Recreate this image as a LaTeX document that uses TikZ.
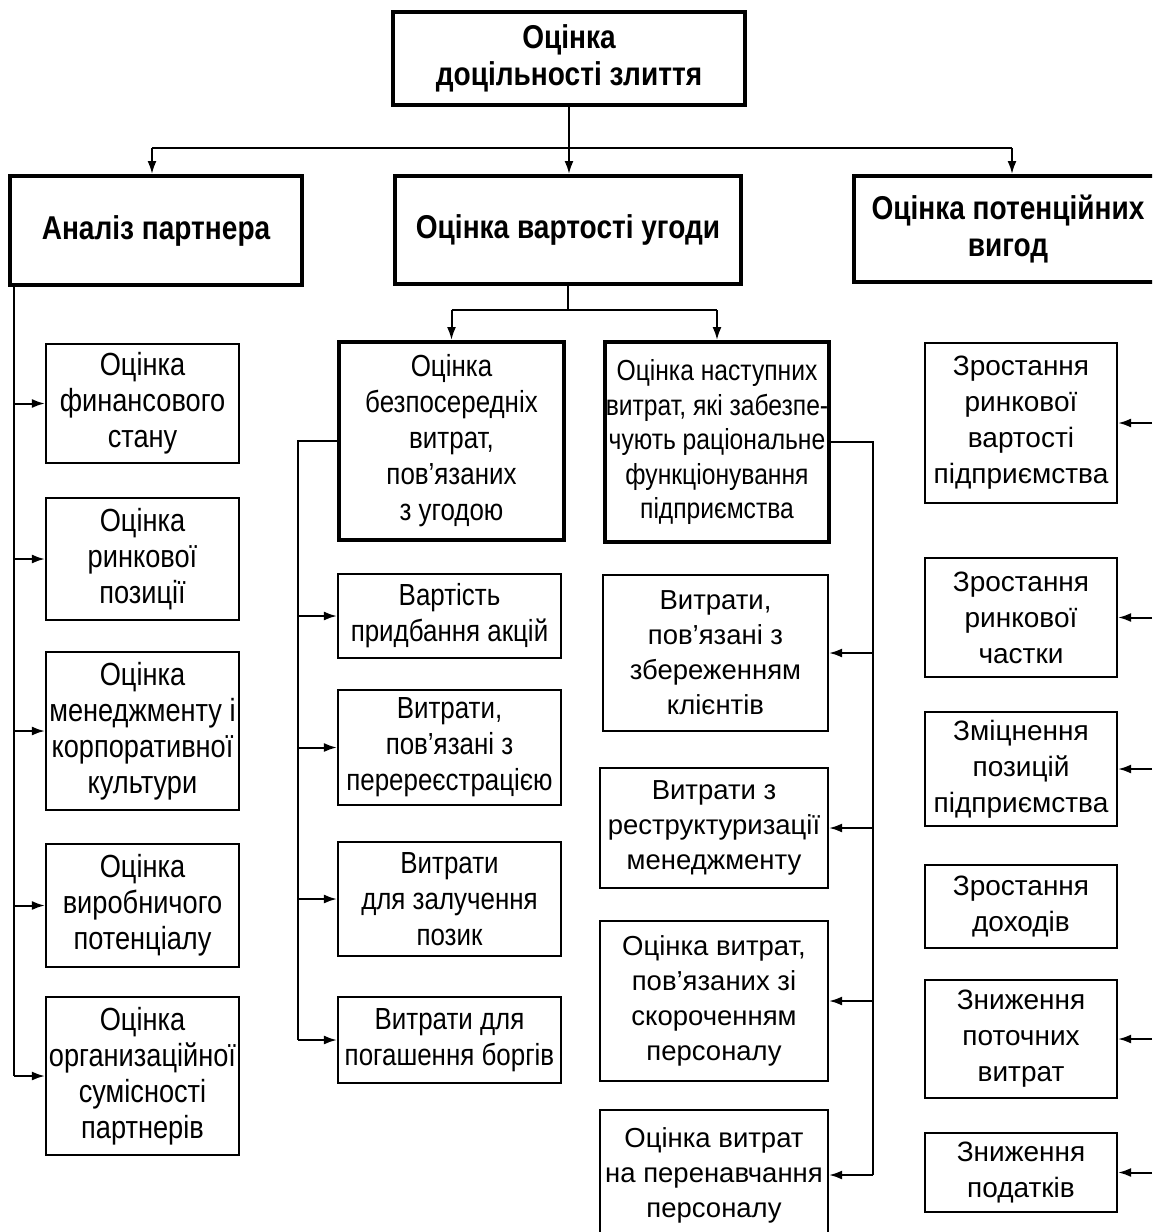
\documentclass[tikz,border=0pt]{standalone}
\usepackage{fontspec}
\setmainfont{Liberation Sans}
\newfontfamily\narrowf{Liberation Sans}[FakeStretch=0.85]
\usetikzlibrary{arrows.meta}
\begin{document}
\begin{tikzpicture}[x=1pt,y=-1pt,
  bx/.style={draw, line width=2.2pt, align=center, inner sep=0pt},
  tbx/.style={draw, line width=4pt, align=center, inner sep=0pt},
  ttl/.style={font=\narrowf\bfseries\fontsize{33}{37}\selectfont},
  nartxt/.style={font=\narrowf\fontsize{32}{36}\selectfont},
  midtxt/.style={font=\narrowf\fontsize{30.5}{36}\selectfont},
  nexttxt/.style={font=\narrowf\fontsize{29}{34.5}\selectfont},
  regtxt/.style={font=\fontsize{27.5}{35}\selectfont},
  rtxt/.style={font=\fontsize{28}{36}\selectfont},
  ln/.style={draw, line width=2pt},
  arr/.style={draw, line width=2pt, -{Latex[length=13pt,width=9pt]}}
]
\useasboundingbox (0,0) rectangle (1152,1232);
\fill[white] (0,0) rectangle (1152,1232);
\clip (0,0) rectangle (1152,1232);

% level 0
\node[tbx,ttl,minimum width=352pt,minimum height=93pt] (top) at (569,58) {Оцінка\\доцільності злиття};

% level 1
\node[tbx,ttl,minimum width=292pt,minimum height=109pt] (A) at (156,230.5) {Аналіз партнера};
\node[tbx,ttl,minimum width=346pt,minimum height=108pt] (B) at (568,230) {Оцінка вартості угоди};
\node[tbx,ttl,minimum width=308pt,minimum height=106pt] (C) at (1008,229) {Оцінка потенційних\\вигод};

% left column
\node[bx,nartxt,minimum width=193pt,minimum height=119pt] (L1) at (142.5,403.5) {Оцінка\\финансового\\стану};
\node[bx,nartxt,minimum width=193pt,minimum height=122pt] (L2) at (142.5,559) {Оцінка\\ринкової\\позиції};
\node[bx,nartxt,minimum width=193pt,minimum height=158pt] (L3) at (142.5,731) {Оцінка\\менеджменту і\\корпоративної\\культури};
\node[bx,nartxt,minimum width=193pt,minimum height=123pt] (L4) at (142.5,905.5) {Оцінка\\виробничого\\потенціалу};
\node[bx,nartxt,minimum width=193pt,minimum height=158pt] (L5) at (142.5,1076) {Оцінка\\организаційної\\сумісності\\партнерів};

% middle second level
\node[tbx,midtxt,minimum width=225pt,minimum height=198pt] (M1) at (451.5,441) {Оцінка\\безпосередніх\\витрат,\\пов’язаних\\з угодою};
\node[tbx,nexttxt,minimum width=224pt,minimum height=200pt] (M2) at (717,442) {Оцінка наступних\\витрат, які забезпе-\\чують раціональне\\функціонування\\підприємства};

% middle-left column
\node[bx,midtxt,minimum width=223pt,minimum height=84pt] (ML1) at (449.5,616) {Вартість\\придбання акцій};
\node[bx,midtxt,minimum width=223pt,minimum height=115pt] (ML2) at (449.5,747.5) {Витрати,\\пов’язані з\\перереєстрацією};
\node[bx,midtxt,minimum width=223pt,minimum height=114pt] (ML3) at (449.5,899) {Витрати\\для залучення\\позик};
\node[bx,midtxt,minimum width=223pt,minimum height=86pt] (ML4) at (449.5,1040) {Витрати для\\погашення боргів};

% middle-right column
\node[bx,regtxt,minimum width=225pt,minimum height=156pt] (MR1) at (715.5,653) {Витрати,\\пов’язані з\\збереженням\\клієнтів};
\node[bx,regtxt,minimum width=228pt,minimum height=120pt] (MR2) at (714,828) {Витрати з\\реструктуризації\\менеджменту};
\node[bx,regtxt,minimum width=228pt,minimum height=160pt] (MR3) at (714,1001) {Оцінка витрат,\\пов’язаних зі\\скороченням\\персоналу};
\node[bx,regtxt,minimum width=228pt,minimum height=130pt] (MR4) at (714,1175) {Оцінка витрат\\на перенавчання\\персоналу};

% right column
\node[bx,rtxt,minimum width=192pt,minimum height=160pt] (R1) at (1021,423) {Зростання\\ринкової\\вартості\\підприємства};
\node[bx,rtxt,minimum width=192pt,minimum height=119pt] (R2) at (1021,617.5) {Зростання\\ринкової\\частки};
\node[bx,rtxt,minimum width=192pt,minimum height=114pt] (R3) at (1021,769) {Зміцнення\\позицій\\підприємства};
\node[bx,rtxt,minimum width=192pt,minimum height=83pt] (R4) at (1021,906.5) {Зростання\\доходів};
\node[bx,rtxt,minimum width=192pt,minimum height=118pt] (R5) at (1021,1039) {Зниження\\поточних\\витрат};
\node[bx,rtxt,minimum width=192pt,minimum height=79pt] (R6) at (1021,1172.5) {Зниження\\податків};

% top connectors
\coordinate (busT) at (569,148);
\coordinate (tl) at (152,148);
\coordinate (tr) at (1012,148);
\draw[ln] (top.south) -- (busT);
\draw[ln] (tl) -- (tr);
\draw[arr] (tl) -- (tl |- A.north);
\draw[arr] (busT) -- (busT |- B.north);
\draw[arr] (tr) -- (tr |- C.north);

% left bus
\coordinate (lbT) at (14,285);
\draw[ln] (lbT) -- (lbT |- L5.west);
\foreach \n in {L1,L2,L3,L4,L5} {\draw[arr] (lbT |- \n.west) -- (\n.west);}

% middle split
\coordinate (mb) at (568,310);
\draw[ln] (B.south) -- (B.south |- mb);
\draw[ln] (M1.north |- mb) -- (M2.north |- mb);
\draw[arr] (M1.north |- mb) -- (M1.north);
\draw[arr] (M2.north |- mb) -- (M2.north);

% middle-left bus
\coordinate (mlb) at (298,443);
\draw[ln] (M1.west) -- (mlb |- M1.west) -- (mlb |- ML4.west);
\foreach \n in {ML1,ML2,ML3,ML4} {\draw[arr] (mlb |- \n.west) -- (\n.west);}

% middle-right bus
\coordinate (mrb) at (873,445);
\draw[ln] (M2.east) -- (mrb |- M2.east) -- (mrb |- MR4.east);
\foreach \n in {MR1,MR2,MR3,MR4} {\draw[arr] (mrb |- \n.east) -- (\n.east);}

% right arrows from off-picture bus
\coordinate (rb) at (1152,0);
\foreach \n in {R1,R2,R3,R5,R6} {\draw[arr] (rb |- \n.east) -- (\n.east);}
\end{tikzpicture}
\end{document}
